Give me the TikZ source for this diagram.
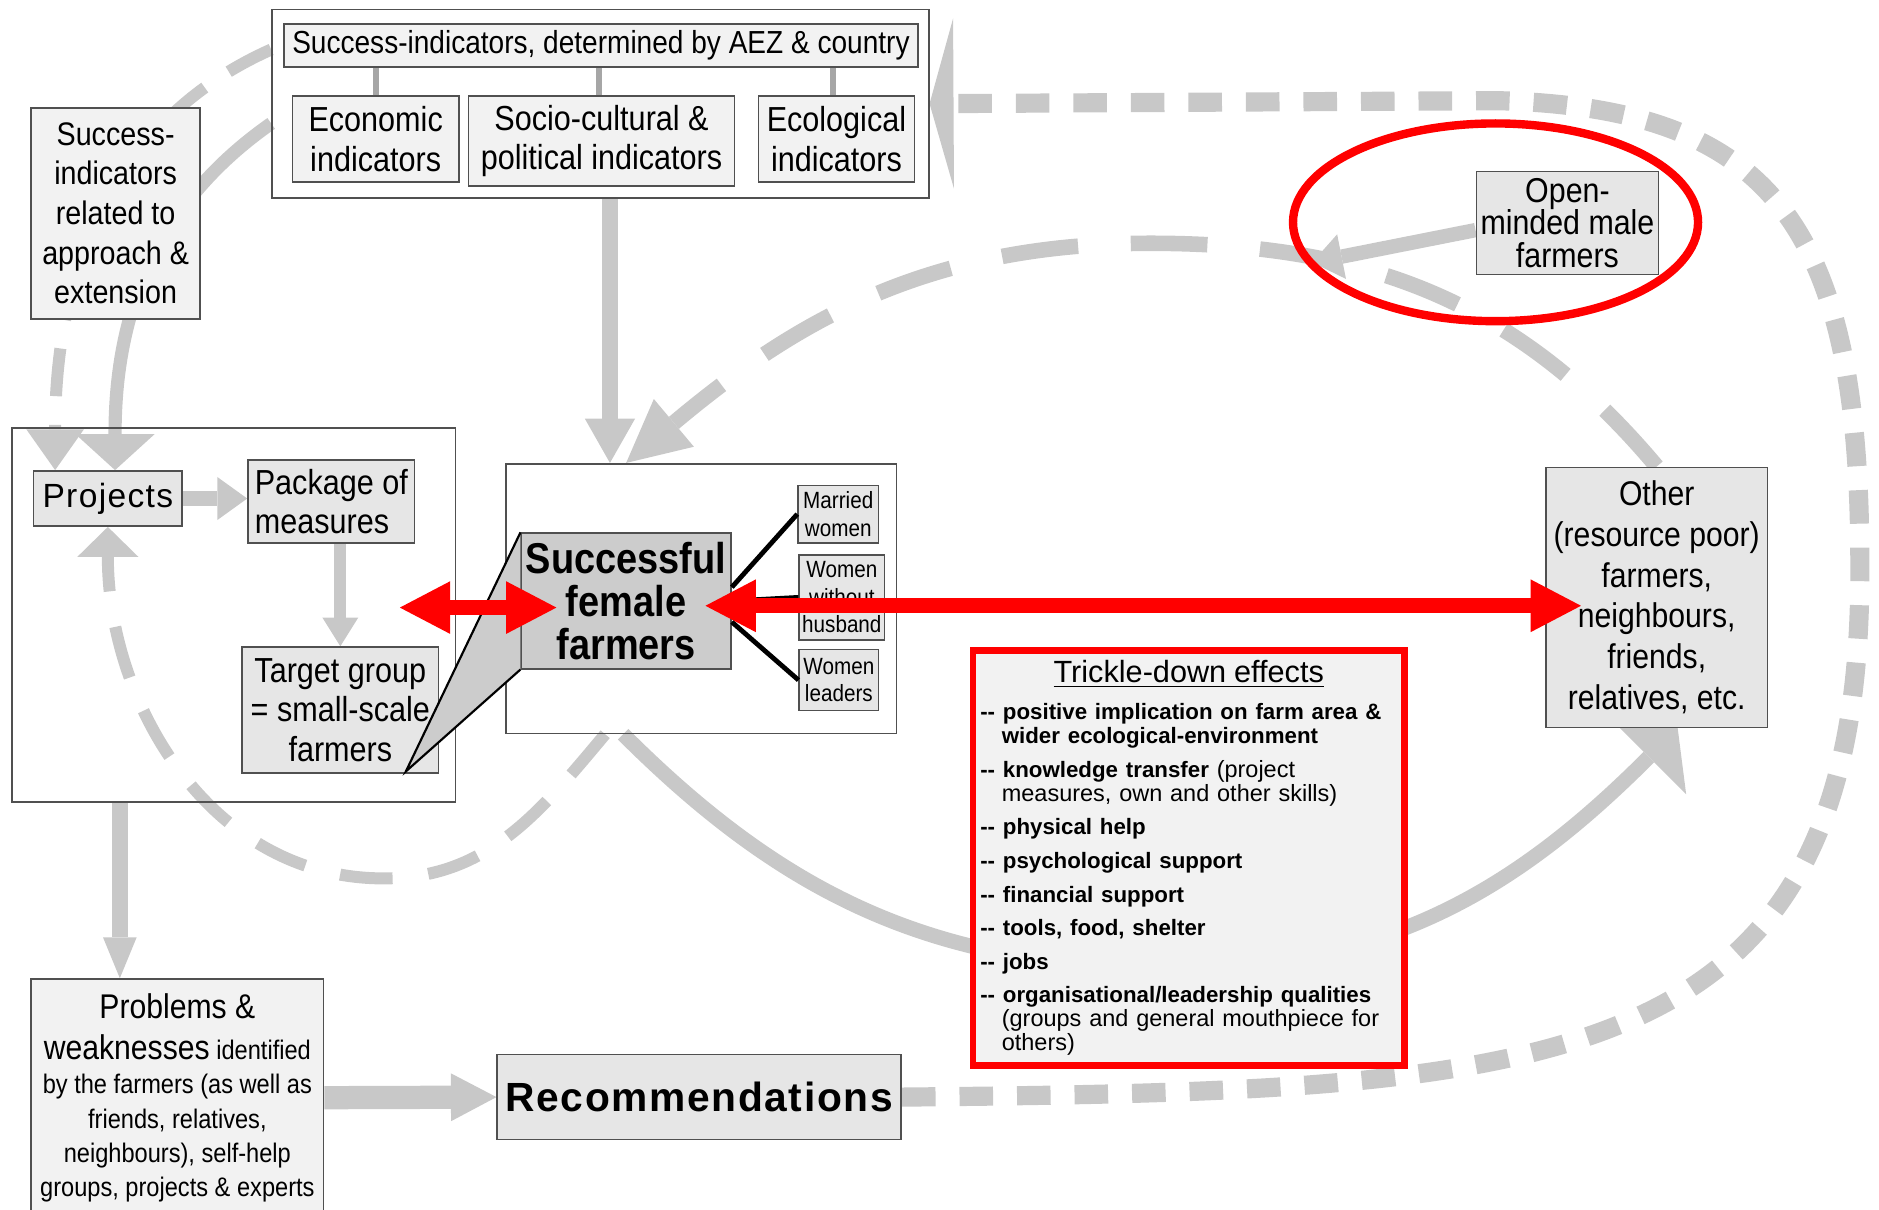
\documentclass[tikz,border=0pt]{standalone}
\usepackage{fontspec}
\setmainfont{Liberation Sans}
\newfontfamily\narrowfont[FakeStretch=0.88]{Liberation Sans}
\newfontfamily\spacedfont[LetterSpace=4]{Liberation Sans}
\usepackage{tikz}
\usetikzlibrary{arrows.meta,backgrounds,shapes.geometric}
\definecolor{boxgray}{HTML}{E6E6E6}
\definecolor{palegray}{HTML}{F2F2F2}
\definecolor{hubgray}{HTML}{CCCCCC}
\definecolor{flowgray}{HTML}{C8C8C8}
\definecolor{linkgray}{HTML}{A6A6A6}
\definecolor{edgegray}{HTML}{505050}
\definecolor{alertred}{HTML}{FF0000}
\newcommand{\effect}[1]{{\fontsize{9.3}{10}\selectfont\bfseries #1}}

\begin{document}
\begin{tikzpicture}[
  x=0.5pt, y=-0.5pt,
  panel/.style={draw=edgegray, line width=0.7pt, inner sep=0pt},
  cell/.style={panel, fill=boxgray, align=center},
  pale/.style={panel, fill=palegray, align=center},
  boxtext/.style={font=\narrowfont\fontsize{14.5}{16.5}\selectfont},
  smalltext/.style={font=\narrowfont\fontsize{9.8}{11.5}\selectfont},
  link/.style={draw=linkgray, line width=2.5pt},
  spoke/.style={draw=black, line width=2pt},
  flow/.style n args={3}{color=flowgray, line width=#1,
    -{Triangle[length=#2, width=#3, line width=0pt]}},
  redarrow/.style={color=alertred, line width=6.25pt,
    {Triangle[length=21pt, width=22pt, line width=0pt]}-{Triangle[length=21pt, width=22pt, line width=0pt]}}
]
\useasboundingbox (0,0) rectangle (1568,1009);

\node[panel, minimum width=274pt, minimum height=78.5pt] (indframe) at (501,86.5) {};
\node[pale, font=\narrowfont\fontsize{13.3}{15}\selectfont, minimum width=264.5pt, minimum height=18pt] (indhead) at (501.5,38) {Success-indicators, determined by AEZ \& country};
\node[pale, boxtext, minimum width=69.5pt, minimum height=36pt] (econ) at (313.5,116) {Economic\\indicators};
\node[pale, boxtext, minimum width=111pt, minimum height=37.5pt] (socio) at (502,117.5) {Socio-cultural \&\\political indicators};
\node[pale, boxtext, minimum width=65pt, minimum height=36pt] (ecol) at (698,116) {Ecological\\indicators};
\node[pale, font=\narrowfont\fontsize{13.6}{16.5}\selectfont, minimum width=70.5pt, minimum height=88pt] (approach) at (96.5,178) {Success-\\indicators\\related to\\approach \&\\extension};

\node[panel, minimum width=185pt, minimum height=156pt] (leftframe) at (195,513) {};
\node[cell, font=\spacedfont\fontsize{14}{16}\selectfont, minimum width=62pt, minimum height=23pt] (proj) at (90,416) {Projects};
\node[cell, boxtext, align=left, minimum width=69.5pt, minimum height=34.5pt] (pack) at (276.5,418.5) {Package of\\measures};
\node[cell, boxtext, minimum width=82pt, minimum height=52.5pt] (target) at (284,592.5) {Target group\\= small-scale\\farmers};

\node[panel, minimum width=163pt, minimum height=112.5pt] (centerframe) at (585,499.5) {};
\node[cell, fill=hubgray, font=\narrowfont\bfseries\fontsize{18}{18}\selectfont, minimum width=87.5pt, minimum height=56.5pt] (sff) at (522.5,501.5) {Successful\\female\\farmers};
\node[cell, smalltext, minimum width=33.5pt, minimum height=24pt] (married) at (699.5,429) {Married\\women};
\node[cell, smalltext, minimum width=35.5pt, minimum height=35.5pt] (without) at (702.5,498.5) {Women\\without\\husband};
\node[cell, smalltext, minimum width=33pt, minimum height=25.5pt] (leaders) at (700,567.5) {Women\\leaders};

\node[cell, font=\narrowfont\fontsize{14.3}{17}\selectfont, minimum width=92.5pt, minimum height=108.5pt] (other) at (1382.5,498.5) {Other\\(resource poor)\\farmers,\\neighbours,\\friends,\\relatives, etc.};
\node[cell, font=\narrowfont\fontsize{14.4}{13.5}\selectfont, minimum width=76pt, minimum height=43pt] (openm) at (1308,186) {Open-\\minded male\\farmers};
\node[ellipse, draw=alertred, line width=3.5pt, minimum width=169pt, minimum height=82.5pt] (openring) at (1248,185.5) {};

\node[pale, draw=alertred, line width=2.8pt, minimum width=180pt, minimum height=173pt, text width=174pt, align=left, font=\fontsize{9.8}{10}\selectfont] (trickle) at (992,716) {%
\makebox[174pt][c]{\fontsize{12.8}{14}\selectfont\underline{Trickle-down effects}}\\[5.5pt]
\effect{-{}- positive implication on farm area \&}\\
\hspace*{9pt}\effect{wider ecological-environment}\\[4pt]
\effect{-{}- knowledge transfer} (project\\
\hspace*{9pt}measures, own and other skills)\\[4pt]
\effect{-{}- physical help}\\[4pt]
\effect{-{}- psychological support}\\[4pt]
\effect{-{}- financial support}\\[4pt]
\effect{-{}- tools, food, shelter}\\[4pt]
\effect{-{}- jobs}\\[4pt]
\effect{-{}- organisational/leadership qualities}\\
\hspace*{9pt}(groups and general mouthpiece for\\
\hspace*{9pt}others)};

\node[pale, font=\narrowfont\fontsize{11.2}{14.25}\selectfont, minimum width=122pt, minimum height=99pt] (problems) at (148,916) {{\fontsize{14.3}{17}\selectfont Problems \&}\\[3pt]{\fontsize{14.3}{17}\selectfont weaknesses} identified\\by the farmers (as well as\\friends, relatives,\\neighbours), self-help\\groups, projects \& experts};
\node[cell, font=\spacedfont\bfseries\fontsize{17}{19}\selectfont, minimum width=168.5pt, minimum height=35.5pt] (rec) at (583.5,915.5) {Recommendations};

\coordinate (openend) at (1095,219);
\coordinate (wedgetip) at ([xshift=-14pt,yshift=1pt]target.south east);

\begin{pgfonlayer}{background}
\draw[flow={8pt}{10pt}{71pt}, dash pattern=on 14pt off 10pt] (rec.east) .. controls (1300,910) and (1555,900) .. (1552,470) .. controls (1552,190) and (1480,90) .. (1250,84) -- (indframe.east);
\draw[flow={6.5pt}{26pt}{26pt}, dash pattern=on 32pt off 22pt] (other.north) to[out=130, in=0] (960,203) to[out=180, in=40] (sff.north |- centerframe.north);
\draw[flow={5pt}{12.5pt}{25.5pt}, dash pattern=on 22pt off 15pt] (centerframe.south -| 505,0) to[out=-130, in=0] (320,733) to[out=180, in=-90] (proj.south);
\draw[flow={5pt}{17pt}{24pt}, dash pattern=on 20pt off 12pt] ([yshift=-17pt]indframe.north west) to[out=204, in=90] ([xshift=-22pt]proj.north);
\draw[flow={5.5pt}{15pt}{33pt}] ([yshift=-8.25pt]indframe.west) to[out=215, in=90] ([xshift=3pt]proj.north);
\draw[flow={6.2pt}{17pt}{44pt}] (centerframe.south -| 520,0) to[out=-45, in=180] (980,808) to[out=0, in=-135] ([xshift=8.75pt]other.south);
\draw[flow={6.25pt}{12.5pt}{18pt}] (proj.east) -- (proj.east -| pack.west);
\draw[flow={5pt}{12pt}{15pt}] (pack.south -| target.north) -- (target.north);
\draw[flow={6.5pt}{18.5pt}{21pt}] ([xshift=4pt]indframe.south) -- ([xshift=4pt]indframe.south |- centerframe.north);
\draw[flow={6.4pt}{17pt}{14pt}] (leftframe.south -| 100,0) -- (problems.north -| 100,0);
\draw[flow={9.7pt}{19pt}{20pt}] (problems.east) -- (rec.west);
\draw[flow={6pt}{12.5pt}{19pt}] ([yshift=-3pt]openm.west) -- (openend);
\end{pgfonlayer}

\draw[link] (econ.north) -- (econ.north |- indhead.south);
\draw[link] ([xshift=-1pt]socio.north) -- ([xshift=-1pt]socio.north |- indhead.south);
\draw[link] ([xshift=-1.5pt]ecol.north) -- ([xshift=-1.5pt]ecol.north |- indhead.south);

\draw[spoke] ([yshift=5.75pt]sff.east) -- (married.west);
\draw[spoke] (sff.east) -- (without.west);
\draw[spoke] ([yshift=-8.75pt]sff.east) -- (leaders.west);
\filldraw[fill=hubgray, draw=black, line width=0.9pt] (sff.north west) -- (wedgetip) -- (sff.south west);

\draw[redarrow] ([xshift=-23.5pt,yshift=3pt]leftframe.east) -- ([xshift=15pt,yshift=-2.75pt]sff.west);
\draw[redarrow] ([xshift=-11pt,yshift=-2pt]sff.east) -- ([xshift=15pt,yshift=-3.5pt]other.west);
\end{tikzpicture}
\end{document}
